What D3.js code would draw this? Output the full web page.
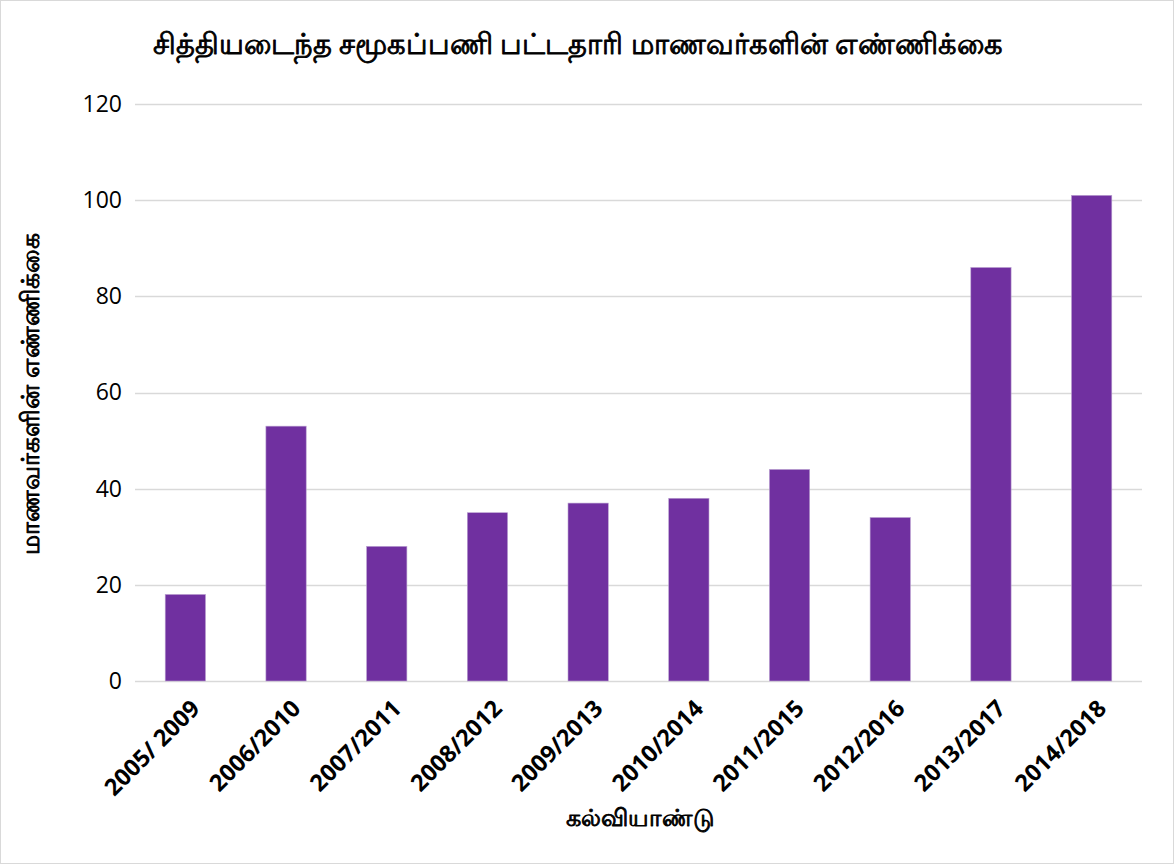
<!DOCTYPE html>
<html>
<head>
<meta charset="utf-8">
<script src="https://cdn.jsdelivr.net/npm/d3@7"></script>
<style>
  html, body { margin: 0; padding: 0; background: #fff; }
  svg { display: block; }
</style>
</head>
<body>
<svg id="chart" width="1174" height="864"></svg>
<script>
const categories = ["2005/ 2009", "2006/2010", "2007/2011", "2008/2012", "2009/2013",
                    "2010/2014", "2011/2015", "2012/2016", "2013/2017", "2014/2018"];
const values = [18, 53, 28, 35, 37, 38, 44, 34, 86, 101];
const yTicks = [0, 20, 40, 60, 80, 100, 120];
const titleText = "சித்தியடைந்த சமூகப்பணி பட்டதாரி மாணவர்களின் எண்ணிக்கை";
const yTitleText = "மாணவர்களின் எண்ணிக்கை";
const xTitleText = "கல்வியாண்டு";

const W = 1174, H = 864;
const margin = { left: 135, right: 32, top: 104, bottom: 183 };
const svg = d3.select("#chart");

svg.append("rect").attr("x", 0.5).attr("y", 0.5).attr("width", W - 1).attr("height", H - 1)
  .attr("fill", "#fff").attr("stroke", "#d9d9d9");

const x = d3.scaleBand().domain(categories).range([margin.left, W - margin.right]).paddingInner(0.6).paddingOuter(0.3);
const y = d3.scaleLinear().domain([0, 120]).range([H - margin.bottom, margin.top]);

// gridlines
svg.append("g").selectAll("line").data(yTicks).join("line")
  .attr("x1", margin.left).attr("x2", W - margin.right)
  .attr("y1", d => Math.round(y(d)) + 0.5).attr("y2", d => Math.round(y(d)) + 0.5)
  .attr("stroke", "#d9d9d9").attr("stroke-width", 1.5);

// y axis labels
const yAxis = d3.axisLeft(y).tickValues(yTicks).tickSize(0).tickPadding(0);
const yg = svg.append("g").attr("transform", `translate(${margin.left - 13},0)`).call(yAxis);
yg.select(".domain").remove();
yg.selectAll("text").attr("font-family", "'Open Sans', 'Liberation Sans', sans-serif")
  .attr("font-size", 23).attr("fill", "#000");

// bars
svg.append("g").selectAll("rect").data(values).join("rect")
  .attr("x", (d, i) => x(categories[i]))
  .attr("width", x.bandwidth())
  .attr("y", d => y(d))
  .attr("height", d => y(0) - y(d))
  .attr("fill", "#7030a0")
  .attr("stroke", "#b9a0d0").attr("stroke-width", 0.6);

// x axis labels
const xAxis = d3.axisBottom(x).tickSize(0).tickPadding(0);
const xg = svg.append("g").attr("transform", `translate(0,${y(0)})`).call(xAxis);
xg.select(".domain").remove();
xg.selectAll("text")
  .attr("font-family", "'Open Sans', 'Liberation Sans', sans-serif")
  .attr("font-weight", "bold").attr("font-size", 23.5).attr("fill", "#000")
  .attr("text-anchor", "end")
  .attr("dy", null).attr("y", 0)
  .attr("transform", "translate(16,29) rotate(-45)");

// faux-bold Tamil text (stroke) so ligatures stay intact
function tamil(sel, size, sw) {
  return sel.attr("font-family", "'Noto Sans', sans-serif").attr("font-size", size)
    .attr("fill", "#000").attr("stroke", "#000").attr("stroke-width", sw)
    .attr("stroke-linejoin", "round");
}

// title
tamil(svg.append("text").attr("x", 578).attr("y", 54).attr("text-anchor", "middle"), 28.5, 0.9)
  .text(titleText);

// y title
tamil(svg.append("text").attr("transform", `translate(39,394) rotate(-90)`).attr("text-anchor", "middle"), 24.5, 0.9)
  .text(yTitleText);

// x title
tamil(svg.append("text").attr("x", 640).attr("y", 826).attr("text-anchor", "middle"), 24, 0.9)
  .text(xTitleText);
</script>
</body>
</html>
